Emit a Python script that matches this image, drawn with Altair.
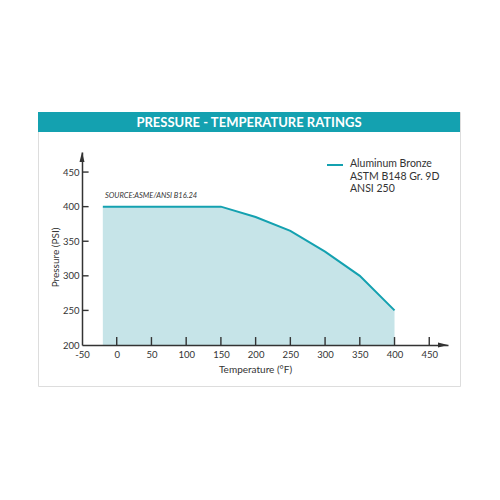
import altair as alt
import pandas as pd

# ---- data ----
temps = [-20, 150, 200, 250, 300, 350, 400]
pressures = [400, 400, 385, 365, 335, 300, 250]
x_tick_vals = [0, 50, 100, 150, 200, 250, 300, 350, 400, 450]
x_label_vals = [-50, 0, 50, 100, 150, 200, 250, 300, 350, 400, 450]
y_tick_vals = [250, 300, 350, 400, 450]
y_label_vals = [200, 250, 300, 350, 400, 450]
legend_lines = ["Aluminum Bronze", "ASTM B148 Gr. 9D", "ANSI 250"]
title_text = "PRESSURE - TEMPERATURE RATINGS"
source_text = "SOURCE:ASME/ANSI B16.24"

TEAL = "#14a1b0"
FILL = "#c6e4e8"
FRAME = "#9fdbe0"
INK = "#333333"
FONT = "Lato"

W, H = 422, 274
x_dom, x_rng = [-50, 477], [44, 410]
y_dom, y_rng = [200, 479], [233, 40]

df = pd.DataFrame({"t": temps, "p": pressures})
xs = alt.Scale(domain=x_dom, range=x_rng, nice=False, zero=False)
ys = alt.Scale(domain=y_dom, range=y_rng, nice=False, zero=False)

x_axis = alt.Axis(values=x_label_vals, ticks=False, tickSize=0, grid=False,
                  domainColor=INK, domainWidth=1.5, offset=-41, zindex=1,
                  labelExpr="toString(datum.value)",
                  labelFont=FONT, labelFontSize=9.5, labelColor=INK, labelPadding=4,
                  title="Temperature (°F)", titleFont=FONT, titleFontSize=10,
                  titleFontWeight="normal", titleColor=INK,
                  titleX=217, titleY=24, titleBaseline="middle", labelFlush=False)
y_axis = alt.Axis(values=y_label_vals, ticks=False, tickSize=0, grid=False,
                  domainColor=INK, domainWidth=1.5, offset=-44, zindex=1,
                  labelFont=FONT, labelFontSize=9.5, labelColor=INK, labelPadding=3,
                  title="Pressure (PSI)", titleFont=FONT, titleFontSize=10,
                  titleFontWeight="normal", titleColor=INK,
                  titleX=-27, titleY=145, titleBaseline="middle", labelFlush=False)

base = alt.Chart(df)

area = base.mark_area(color=FILL, opacity=1).encode(
    x=alt.X("t:Q", scale=xs, axis=x_axis),
    y=alt.Y("p:Q", scale=ys, axis=y_axis),
    y2=alt.datum(y_dom[0]),
)
line = base.mark_line(color=TEAL, strokeWidth=2).encode(
    x=alt.X("t:Q", scale=xs), y=alt.Y("p:Q", scale=ys),
)

# inward tick marks sitting on the axis lines
xt_df = pd.DataFrame({"tx": x_tick_vals, "y0": [200] * len(x_tick_vals),
                      "y1": [211.5] * len(x_tick_vals)})
xt = alt.Chart(xt_df).mark_rule(color=INK, strokeWidth=1.4).encode(
    x=alt.X("tx:Q", scale=xs), y=alt.Y("y0:Q", scale=ys), y2="y1:Q"
)
yt_df = pd.DataFrame({"ty": y_tick_vals, "x0": [-50] * len(y_tick_vals),
                      "x1": [-40.5] * len(y_tick_vals)})
yt = alt.Chart(yt_df).mark_rule(color=INK, strokeWidth=1.4).encode(
    y=alt.Y("ty:Q", scale=ys), x=alt.X("x0:Q", scale=xs), x2="x1:Q"
)

up_arrow = alt.Chart(pd.DataFrame({"a": [0]})).mark_point(
    shape="M0,0L0.25,1L-0.25,1Z", size=400, filled=True, color=INK, opacity=1
).encode(x=alt.datum(x_dom[0], scale=xs), y=alt.datum(y_dom[1], scale=ys))
right_arrow = alt.Chart(pd.DataFrame({"a": [0]})).mark_point(
    shape="M0,0L-1,0.25L-1,-0.25Z", size=400, filled=True, color=INK, opacity=1
).encode(x=alt.datum(x_dom[1], scale=xs), y=alt.datum(y_dom[0], scale=ys))

source = alt.Chart(pd.DataFrame({"s": [source_text]})).mark_text(
    font=FONT, fontSize=7.5, fontStyle="italic", color=INK, align="left", baseline="middle"
).encode(text="s:N", x=alt.datum(-17, scale=xs), y=alt.datum(415, scale=ys))

header_band = alt.Chart(pd.DataFrame({"a": [0]})).mark_rect(color=TEAL).encode(
    x=alt.value(0), x2=alt.value(W), y=alt.value(0), y2=alt.value(20)
)
header_txt = alt.Chart(pd.DataFrame({"s": [title_text]})).mark_text(
    font=FONT, fontSize=13, fontWeight="bold", color="white", align="center", baseline="middle"
).encode(text="s:N", x=alt.value(W / 2), y=alt.value(10.5))

leg_line = alt.Chart(pd.DataFrame({"a": [0]})).mark_rule(color=TEAL, strokeWidth=2).encode(
    x=alt.value(289), x2=alt.value(305), y=alt.value(53)
)
leg_txt = alt.Chart(pd.DataFrame({"s": ["\n".join(legend_lines)]})).mark_text(
    font=FONT, fontSize=10.5, color=INK, align="left", baseline="top",
    lineBreak="\n", lineHeight=12.5
).encode(text="s:N", x=alt.value(312), y=alt.value(47))

chart = alt.layer(
    area, line, xt, yt, up_arrow, right_arrow, source,
    header_band, header_txt, leg_line, leg_txt
).properties(
    width=W, height=H,
    autosize=alt.AutoSizeParams(type="none"),
    padding={"left": 30, "top": 104, "right": 484 - 30 - W, "bottom": 484 - 104 - H},
).configure_view(stroke=FRAME, strokeWidth=2).configure(background="white")

chart.save("out.html", embed_options={"renderer": "svg", "actions": False})
